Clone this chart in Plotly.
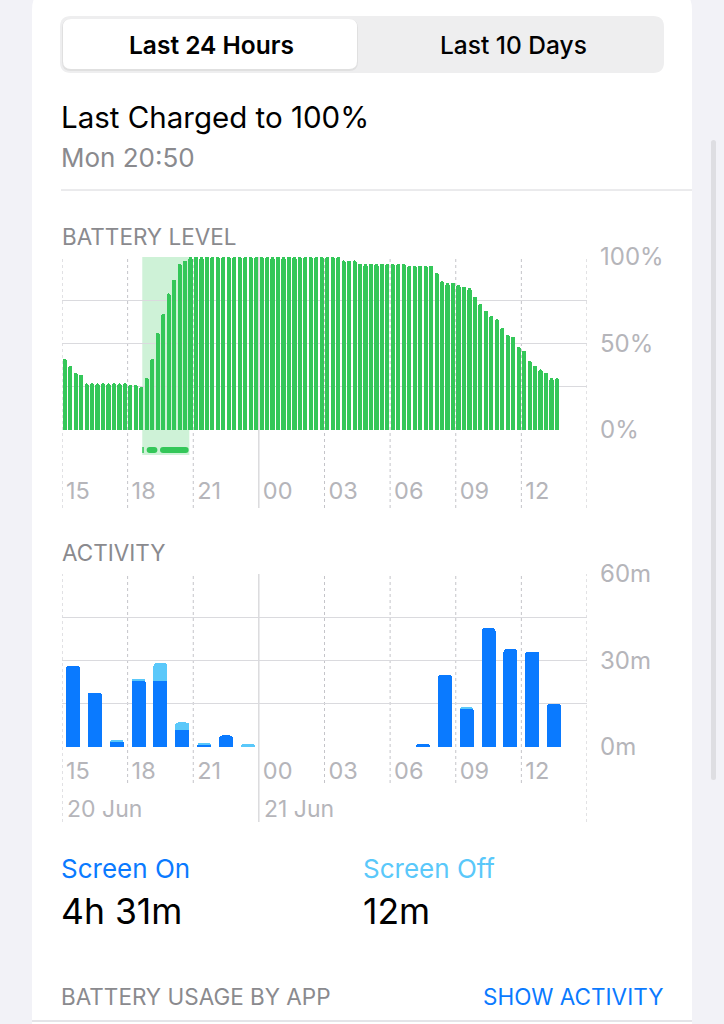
import plotly.graph_objects as go

W, H = 724, 1024


def X(px):
    return px / W


def Y(py):
    return 1 - py / H


FONT = "Inter"

# ---------------- data ----------------
hour_labels = ["15", "18", "21", "00", "03", "06", "09", "12"]
date_labels = ["20 Jun", "21 Jun"]
date_label_hours = [0, 9]

# battery level (%) in 15-minute slots, starting 20 Jun 15:00
battery_level = [
    41, 37, 33, 32, 27, 27, 27, 27, 27, 27, 27, 27, 26, 26, 25, 30,
    41, 56, 67, 79, 87, 96, 98, 100, 100, 100, 100, 100, 100, 100, 100, 100,
    100, 100, 100, 100, 100, 100, 100, 100, 100, 100, 100, 100, 100, 100, 100, 100,
    100, 100, 100, 98, 98, 98, 96, 96, 96, 96, 96, 96, 96, 96, 96, 95,
    95, 95, 95, 95, 91, 86, 85, 85, 84, 83, 82, 77, 73, 69, 66, 64,
    59, 55, 54, 48, 46, 40, 37, 35, 33, 30, 30,
]

# charging (hours after 15:00)
charge_window = [3.67, 5.82]
charge_seg_start = [3.67, 3.87, 4.48]
charge_seg_end = [3.74, 4.36, 5.79]

# activity (minutes) per hour, starting 20 Jun 15:00
screen_on = [28.2, 18.9, 2.0, 23.1, 23.0, 6.0, 1.0, 4.0, 0, 0, 0, 0, 0, 0, 0, 0,
             1.0, 25.0, 13.2, 41.2, 34.0, 33.1, 15.0, 0]
screen_off = [0, 0, 0.5, 0.6, 6.1, 2.5, 0.5, 0, 1.0, 0, 0, 0, 0, 0, 0, 0,
              0, 0, 0.4, 0, 0, 0, 0, 0]

# ---------------- colours ----------------
GREEN = "#34c759"
BAND = "rgba(52,199,89,0.24)"
BLUE = "#0a7aff"
LIGHTBLUE = "#5ac8fa"
GRID = "#dadade"
VLINE = "#c4c4c9"
TICK = "#b5b5ba"
SUB = "#8a8a8e"

PX_PER_HOUR = (587 - 62) / 24.0
CAP = 3 / PX_PER_HOUR  # half of pill height, in hours

fig = go.Figure()

slot_x = [0.125 + 0.25 * i for i in range(len(battery_level))]
fig.add_trace(go.Bar(x=slot_x, y=battery_level, width=0.19,
                     marker=dict(color=GREEN, line_width=0, cornerradius=2),
                     xaxis="x", yaxis="y", hoverinfo="skip"))

# charging indicator strip (rounded pills)
for s, e in zip(charge_seg_start, charge_seg_end):
    if e - s > 2 * CAP:
        fig.add_trace(go.Scatter(x=[s + CAP, e - CAP], y=[0.5, 0.5], mode="lines+markers",
                                 line=dict(color=GREEN, width=6), marker=dict(color=GREEN, size=6),
                                 xaxis="x3", yaxis="y3", hoverinfo="skip", cliponaxis=False))
    else:
        fig.add_trace(go.Scatter(x=[s, e], y=[0.5, 0.5], mode="lines",
                                 line=dict(color=GREEN, width=6),
                                 xaxis="x3", yaxis="y3", hoverinfo="skip", cliponaxis=False))

hour_x = [h + 0.5 for h in range(len(screen_on))]
fig.add_trace(go.Bar(x=hour_x, y=screen_on, width=0.64, marker=dict(color=BLUE, line_width=0),
                     xaxis="x2", yaxis="y2", hoverinfo="skip"))
fig.add_trace(go.Bar(x=hour_x, y=screen_off, width=0.64, marker=dict(color=LIGHTBLUE, line_width=0),
                     xaxis="x2", yaxis="y2", hoverinfo="skip"))

tickvals_x = [0, 3, 6, 9, 12, 15, 18, 21]

xcommon = dict(range=[0, 24], showgrid=False, zeroline=False, showline=False, ticks="",
               tickvals=tickvals_x, ticktext=hour_labels, ticklabelposition="outside right",
               ticklabelshift=4, tickfont=dict(family=FONT, size=23.5, color=TICK),
               fixedrange=True, automargin=False)
ycommon = dict(side="right", showgrid=True, gridcolor=GRID, gridwidth=1, zeroline=False,
               showline=False, ticks="", ticklabelstandoff=12,
               tickfont=dict(family=FONT, size=24, color=TICK), automargin=False, fixedrange=True)

fig.update_layout(
    width=W, height=H, margin=dict(l=0, r=0, t=0, b=0, pad=0, autoexpand=False),
    paper_bgcolor="#f2f2f7", plot_bgcolor="rgba(0,0,0,0)",
    showlegend=False, barmode="stack", barcornerradius=3,
    xaxis=dict(domain=[X(62), X(587)], anchor="y", ticklabelstandoff=44, **xcommon),
    yaxis=dict(domain=[Y(430), Y(257)], range=[0, 100], anchor="x",
               tickvals=[0, 25, 50, 75, 100], ticktext=["0%", "", "50%", "", "100%"], **ycommon),
    xaxis2=dict(domain=[X(62), X(587)], anchor="y2", ticklabelstandoff=7, **xcommon),
    yaxis2=dict(domain=[Y(747), Y(574)], range=[0, 60], anchor="x2",
                tickvals=[0, 15, 30, 45, 60], ticktext=["0m", "", "30m", "", "60m"], **ycommon),
    xaxis3=dict(domain=[X(62), X(587)], range=[0, 24], anchor="y3", visible=False, automargin=False),
    yaxis3=dict(domain=[Y(456), Y(444)], range=[0, 1], anchor="x3", visible=False, automargin=False),
)


def rrect(x0, y0, x1, y1, r):
    p = [
        f"M {X(x0 + r)} {Y(y0)}",
        f"L {X(x1 - r)} {Y(y0)}",
        f"Q {X(x1)} {Y(y0)} {X(x1)} {Y(y0 + r)}",
        f"L {X(x1)} {Y(y1 - r)}",
        f"Q {X(x1)} {Y(y1)} {X(x1 - r)} {Y(y1)}",
        f"L {X(x0 + r)} {Y(y1)}",
        f"Q {X(x0)} {Y(y1)} {X(x0)} {Y(y1 - r)}",
        f"L {X(x0)} {Y(y0 + r)}",
        f"Q {X(x0)} {Y(y0)} {X(x0 + r)} {Y(y0)}",
        "Z",
    ]
    return " ".join(p)


shapes = []
# card
shapes.append(dict(type="path", path=rrect(32, -12, 692, 1100, 22), xref="paper", yref="paper",
                   fillcolor="white", line=dict(width=0), layer="below"))
# scrollbar
shapes.append(dict(type="path", path=rrect(711, 140, 716, 780, 2.5), xref="paper", yref="paper",
                   fillcolor="#dedee2", line=dict(width=0), layer="below"))
# segmented control
shapes.append(dict(type="path", path=rrect(60, 16, 664, 73, 11), xref="paper", yref="paper",
                   fillcolor="#eeeeef", line=dict(width=0), layer="below"))
shapes.append(dict(type="path", path=rrect(62, 19, 358, 71, 9), xref="paper", yref="paper",
                   fillcolor="rgba(0,0,0,0.06)", line=dict(width=0), layer="below"))
shapes.append(dict(type="path", path=rrect(63, 19, 357, 69, 8), xref="paper", yref="paper",
                   fillcolor="white", line=dict(width=0), layer="below"))
# separators
shapes.append(dict(type="line", x0=X(61), x1=X(692), y0=Y(190), y1=Y(190), xref="paper", yref="paper",
                   line=dict(color="#d6d6da", width=1), layer="below"))
shapes.append(dict(type="line", x0=X(32), x1=X(692), y0=Y(1021), y1=Y(1021), xref="paper", yref="paper",
                   line=dict(color="#e4e4e8", width=2), layer="below"))
# charging band
shapes.append(dict(type="rect", x0=charge_window[0], x1=charge_window[1], y0=Y(455), y1=Y(257),
                   xref="x", yref="paper", fillcolor=BAND, line=dict(width=0), layer="below"))

# vertical time lines
for h in range(0, 25, 3):
    solid = (h == 9)
    style = dict(color="#c8c8cc" if solid else VLINE, width=1, dash="solid" if solid else "3px,3px")
    shapes.append(dict(type="line", x0=h, x1=h, y0=Y(508), y1=Y(257), xref="x", yref="paper",
                       line=style, layer="below"))
    long_line = h in (0, 9, 24)
    shapes.append(dict(type="line", x0=h, x1=h, y0=Y(822 if long_line else 783), y1=Y(574),
                       xref="x2", yref="paper", line=style, layer="below"))

fig.update_layout(shapes=shapes)


def txt(x, y, s, size, color="black", anchor="left", weight=400, xref="paper", xshift=0):
    return dict(x=x, y=y, xref=xref, yref="paper", text=s, showarrow=False, xanchor=anchor,
                yanchor="middle", xshift=xshift,
                font=dict(family=FONT, size=size, color=color, weight=weight))


ann = [
    txt(X(211), Y(45), "Last 24 Hours", 24.5, anchor="center", weight=600),
    txt(X(513), Y(45), "Last 10 Days", 24.5, anchor="center", weight=500),
    txt(X(59), Y(117), "Last Charged to 100%", 29.5),
    txt(X(59), Y(157), "Mon 20:50", 26, color=SUB),
    txt(X(60), Y(236), "BATTERY LEVEL", 22.5, color=SUB),
    txt(X(60), Y(552), "ACTIVITY", 22.5, color=SUB),
    txt(X(59), Y(868), "Screen On", 26, color=BLUE),
    txt(X(59), Y(911), "4h 31m", 35.5),
    txt(X(361), Y(868), "Screen Off", 26, color=LIGHTBLUE),
    txt(X(361), Y(911), "12m", 35.5),
    txt(X(59), Y(996), "BATTERY USAGE BY APP", 22.5, color=SUB),
    txt(X(665), Y(996), "SHOW ACTIVITY", 22.5, color=BLUE, anchor="right"),
]
for lbl, hx in zip(date_labels, date_label_hours):
    ann.append(txt(hx, Y(809), lbl, 23, color=TICK, xref="x2", xshift=3))

fig.update_layout(annotations=ann)

fig.write_html("out.html", config={"displayModeBar": False},
               post_script="document.body.style.margin='0';")
